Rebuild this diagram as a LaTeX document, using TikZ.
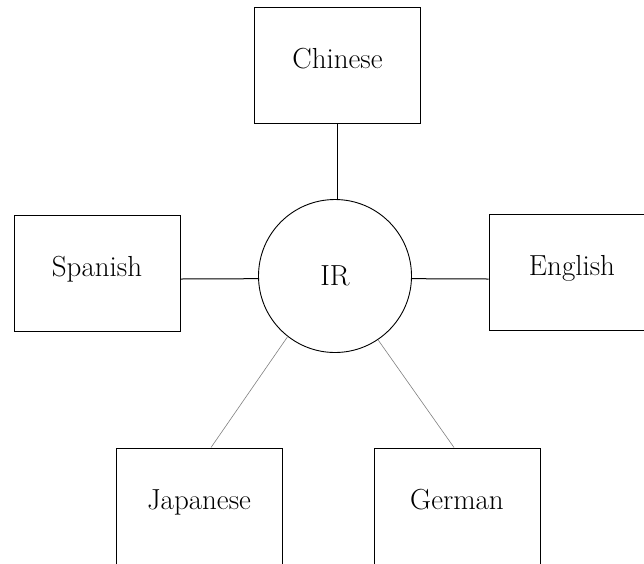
\documentclass[tikz,border=0pt]{standalone}
\tikzset{
	langbox/.style={draw,line width=1pt,minimum width=166pt,minimum height=116pt,inner sep=0pt,text height=0.68em,text depth=0pt},
	hub/.style={draw,circle,line width=0.9pt,minimum size=153pt,inner sep=0pt},
	spoke/.style={line width=1pt},
	thinspoke/.style={gray,line width=0.6pt}
}
\begin{document}
\begin{tikzpicture}[x=1pt,y=-1pt,font=\fontsize{29}{35}\selectfont]

\clip (0,0) rectangle (644,563);

\node [hub] (ir) at (335,276) {IR};

\foreach \name/\txt/\x/\y in {chinese/Chinese/337.5/65, spanish/Spanish/97/273.5, english/English/572/272, japanese/Japanese/199/506, german/German/457/506} {
	\node [langbox] (\name) at (\x,\y) {\txt};
}

% bottom boxes run past the lower edge
\draw [spoke] (chinese.south) -- (chinese.south |- ir.north);
\draw [spoke] ([yshift=-5.5pt]spanish.east) -- (ir.182);
\draw [spoke] ([yshift=-7pt]english.west) -- (ir.-2);

\draw [thinspoke] (ir.232.7) -- ([xshift=12pt]japanese.north);
\draw [thinspoke] (ir.304) -- ([xshift=-3pt]german.north);

\end{tikzpicture}
\end{document}
